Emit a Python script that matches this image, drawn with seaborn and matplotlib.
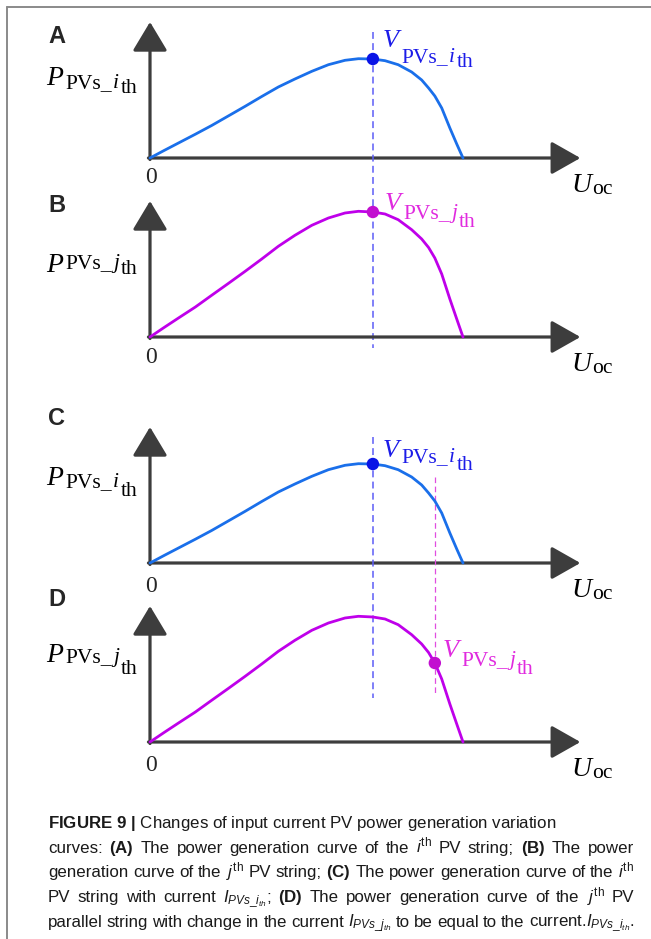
import matplotlib
matplotlib.use("Agg")
import matplotlib.pyplot as plt
import seaborn as sns
from matplotlib.lines import Line2D

sns.set_theme(style="white")
plt.rcParams["font.family"] = ["Liberation Serif", "DejaVu Serif"]
plt.rcParams["mathtext.fontset"] = "custom"
plt.rcParams["mathtext.rm"] = "Liberation Sans"
plt.rcParams["mathtext.it"] = "Liberation Sans:italic"
plt.rcParams["mathtext.bf"] = "Liberation Sans:bold"

# Terminal voltage samples (0 = short circuit, 100 = open circuit)
u_oc = [0, 4.5, 9.1, 14.5, 19.7, 25, 30.4, 35.7, 41, 46.3, 51.7, 57, 62.3, 66.6,
        71.2, 75.1, 79.3, 83.6, 86.8, 89, 91, 93.2, 95.8, 98, 100]
# Output power of the i-th string
p_i = [0, 7.5, 15, 23.8, 32.5, 42, 51.7, 61.5, 71, 79, 86.7, 93.3, 97.7, 99.3,
       99, 97.3, 93.3, 86, 78, 70, 62, 50, 30, 14, 0]
# Output power of the j-th string
p_j = [0, 9.5, 19, 30, 41.7, 53.5, 65.7, 78, 90.7, 101.7, 111.7, 119, 124, 125.7,
       125, 123, 117.3, 107.3, 98, 89.5, 79, 63, 38, 18, 0]

v_mpp = 71.2     # common maximum power point voltage
v_j_op = 91      # operating voltage of the j-th string after the current change

# ---- styling -------------------------------------------------------------
W, H = 651, 939
AXIS_C = "#3d3d3d"
BLUE, BLUE_DOT, BLUE_TXT, BLUE_DASH = "#1a6fea", "#0a14e6", "#1c1ce8", "#5c5cf6"
MAG, MAG_DOT, MAG_TXT, MAG_DASH = "#bf00ea", "#c20fd0", "#e02adf", "#e04ee0"
PX = 3.13          # pixels per voltage unit
X0 = 150           # pixel column of the origin
L, R = 20, 640     # horizontal extent of each panel axes (pixels)

fig = plt.figure(figsize=(W / 100, H / 100), dpi=100)
fig.patch.set_facecolor("white")


def panel_axes(origin_px):
    top, bottom = origin_px - 160, origin_px + 45
    ax = fig.add_axes([L / W, 1 - bottom / H, (R - L) / W, (bottom - top) / H])
    ax.set_xlim((L - X0) / PX, (R - X0) / PX)
    ax.set_ylim(-45, 160)
    ax.set_axis_off()
    return ax


def compose(ax, x, y, pieces, color):
    """Write a label piece by piece, each one placed right after the previous."""
    prev = None
    for text, size, style, drop, gap in pieces:
        kw = dict(fontsize=size, style=style, color=color, ha="left",
                  va="baseline", family=["Liberation Serif", "DejaVu Serif"])
        if prev is None:
            prev = ax.text(x, y - drop, text, clip_on=False, **kw)
        else:
            prev = ax.annotate(text, xy=(1, y - drop), xycoords=(prev, "data"),
                               xytext=(gap, 0), textcoords="offset points",
                               annotation_clip=False, **kw)


def sub_label(letter, idx, d1, d2, big=20, small=15.5):
    return [(letter, big, "italic", 0, 0),
            ("PVs_", small, "normal", d1, 1.6),
            (idx, small, "italic", d1, 0.8),
            ("th", small, "normal", d2, 1.0)]


panels = [
    dict(tag="A", origin=158, power=p_i, curve=BLUE, idx="i", letter_y=43,
         p_y=73, p_d=(3, 8), dot=(v_mpp, p_i[u_oc.index(v_mpp)]), dot_c=BLUE_DOT,
         v_xy=(74.4, 111), v_d=(15, 20), v_c=BLUE_TXT, zero=-25),
    dict(tag="B", origin=337, power=p_j, curve=MAG, idx="j", letter_y=212,
         p_y=65, p_d=(-4, 2), dot=(v_mpp, p_j[u_oc.index(v_mpp)]), dot_c=MAG_DOT,
         v_xy=(75.1, 127), v_d=(8, 17), v_c=MAG_TXT, zero=-26),
    dict(tag="C", origin=563, power=p_i, curve=BLUE, idx="i", letter_y=425,
         p_y=78, p_d=(2, 11), dot=(v_mpp, p_i[u_oc.index(v_mpp)]), dot_c=BLUE_DOT,
         v_xy=(74.4, 106), v_d=(5, 13), v_c=BLUE_TXT, zero=-29),
    dict(tag="D", origin=742, power=p_j, curve=MAG, idx="j", letter_y=606,
         p_y=80, p_d=(0, 12), dot=(v_j_op, p_j[u_oc.index(v_j_op)]), dot_c=MAG_DOT,
         v_xy=(93.6, 85), v_d=(8, 17), v_c=MAG_TXT, zero=-29),
]

axes = []
for p in panels:
    ax = panel_axes(p["origin"])
    axes.append(ax)

    # coordinate axes with arrow heads
    ax.annotate("", xy=(0, 136), xytext=(0, -1.5),
                arrowprops=dict(arrowstyle="-|>,head_length=1.5,head_width=0.9",
                                color=AXIS_C, lw=2.3, shrinkA=0, shrinkB=0),
                annotation_clip=False)
    ax.annotate("", xy=(137.5, 0), xytext=(-0.5, 0),
                arrowprops=dict(arrowstyle="-|>,head_length=1.5,head_width=0.85",
                                color=AXIS_C, lw=2.3, shrinkA=0, shrinkB=0),
                annotation_clip=False)

    # power curve and marked operating point
    sns.lineplot(x=u_oc, y=p["power"], ax=ax, color=p["curve"], linewidth=2.0,
                 zorder=4, sort=False)
    sns.scatterplot(x=[p["dot"][0]], y=[p["dot"][1]], ax=ax, s=80,
                    color=p["dot_c"], edgecolor="none", zorder=6, clip_on=False)
    ax.set_axis_off()

    # labels
    fig.text(48 / W, 1 - p["letter_y"] / H, p["tag"], fontsize=17,
             fontweight="bold", family="Liberation Sans", ha="left", va="baseline")
    compose(ax, (46 - X0) / PX, p["p_y"], sub_label("P", p["idx"], *p["p_d"]), "black")
    compose(ax, *p["v_xy"], sub_label("V", p["idx"], *p["v_d"], big=19), p["v_c"])
    ax.text(0.3, p["zero"], "0", fontsize=17, ha="center", va="baseline",
            family="Liberation Serif")
    compose(ax, (571 - X0) / PX, -34,
            [("U", 20, "italic", 0, 0), ("oc", 15.5, "normal", 2, 0.6)], "black")

# dashed guide lines spanning neighbouring panels
dash = dict(linestyle=(0, (4.5, 2.8)), clip_on=False, zorder=3)
axes[0].plot([v_mpp, v_mpp], [126, -190], color=BLUE_DASH, lw=1.1, **dash)
axes[2].plot([v_mpp, v_mpp], [126, -135], color=BLUE_DASH, lw=1.1, **dash)
axes[2].plot([v_j_op, v_j_op], [86, -130], color=MAG_DASH, lw=0.9, **dash)

# caption (justified except for the first line)
caption = [
    r"$\mathbf{FIGURE\ 9\ |}$ Changes of input current PV power generation variation",
    r"curves: $\mathbf{(A)}$ The power generation curve of the $\mathit{i}^{\mathrm{th}}$ PV string; $\mathbf{(B)}$ The power",
    r"generation curve of the $\mathit{j}^{\mathrm{th}}$ PV string; $\mathbf{(C)}$ The power generation curve of the $\mathit{i}^{\mathrm{th}}$",
    r"PV string with current $\mathit{I}_{\mathit{PVs\_i}_{\mathit{th}}}$; $\mathbf{(D)}$ The power generation curve of the $\mathit{j}^{\mathrm{th}}$ PV",
    r"parallel string with change in the current $\mathit{I}_{\mathit{PVs\_j}_{\mathit{th}}}$ to be equal to the current.$\mathit{I}_{\mathit{PVs\_i}_{\mathit{th}}}$.",
]
CAP_L, CAP_R = 48, 634
cap_kw = dict(fontsize=12.2, family="Liberation Sans", ha="left", va="baseline",
              color="#1a1a1a")
renderer = fig.canvas.get_renderer()
for k, line in enumerate(caption):
    y = 1 - (828 + 24.7 * k) / H
    if k == 0:
        fig.text(CAP_L / W, y, line, **cap_kw)
        continue
    words = line.split(" ")
    texts = [fig.text(0, y, w, **cap_kw) for w in words]
    widths = [t.get_window_extent(renderer).width for t in texts]
    gap = (CAP_R - CAP_L - sum(widths)) / (len(words) - 1)
    x = CAP_L
    for t, w in zip(texts, widths):
        t.set_x(x / W)
        x += w + gap

# page frame (top and left rules)
fig.add_artist(Line2D([7 / W, 1], [1 - 7 / H, 1 - 7 / H], transform=fig.transFigure,
                      color="#8a8a8a", lw=1.4))
fig.add_artist(Line2D([7 / W, 7 / W], [0, 1 - 7 / H], transform=fig.transFigure,
                      color="#8a8a8a", lw=1.4))

fig.savefig("out.png", dpi=100, facecolor="white")
